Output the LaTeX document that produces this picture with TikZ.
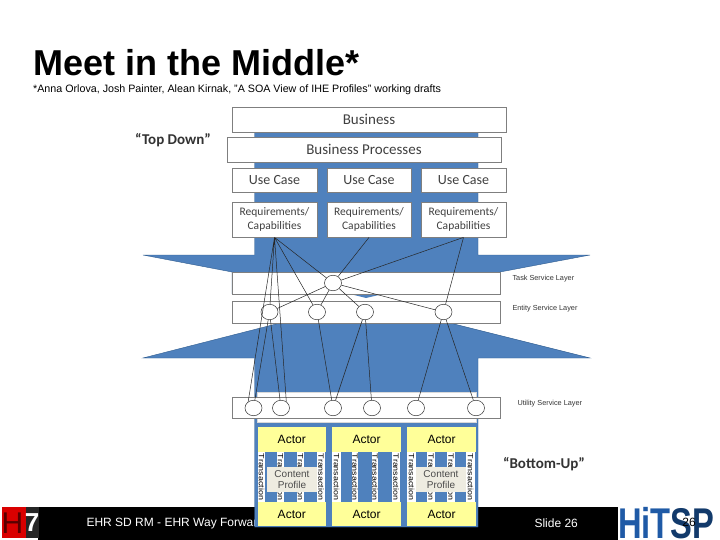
\documentclass[tikz,border=0pt]{standalone}
\usepackage{fontspec}
\usepackage{graphicx}
\setmainfont{Liberation Sans}
\newfontfamily\calfont{Carlito}
\definecolor{bl}{HTML}{4F81BD}
\definecolor{dbl}{HTML}{2F5C8F}
\definecolor{bd}{HTML}{7F7F7F}
\definecolor{yl}{HTML}{FFFF99}
\definecolor{beige}{HTML}{EEECE1}
\definecolor{hit}{HTML}{1F5AA6}
\definecolor{hitd}{HTML}{123A6B}
\definecolor{txtg}{HTML}{404040}
\usetikzlibrary{shapes.geometric}
\tikzset{
  wbox/.style={draw=bd,fill=white,line width=0.8pt,inner sep=0pt,font=\calfont\fontsize{15}{15}\selectfont,text=txtg},
  ucbox/.style={wbox,font=\calfont\fontsize{14}{14}\selectfont},
  reqbox/.style={wbox,font=\calfont\fontsize{11.5}{14.5}\selectfont,align=center},
  band/.style={draw=bd,fill=white,line width=0.7pt},
  svc/.style={draw=black!80,fill=white,ellipse,line width=0.5pt,minimum width=17pt,minimum height=15.5pt,inner sep=0pt},
  link/.style={black!85,line width=0.5pt},
  layerlab/.style={font=\fontsize{7.3}{8}\selectfont,anchor=west,text=black!80},
  actor/.style={fill=yl,draw=none,font=\fontsize{12}{12}\selectfont,text=black},
  trans/.style={draw=none,rotate=-90,font=\fontsize{7.6}{8}\selectfont,inner sep=0pt},
  content/.style={fill=beige,draw=none,font=\fontsize{10}{11.5}\selectfont,align=center,text=black!70,inner sep=0pt},
  quote/.style={font=\calfont\bfseries\fontsize{15}{16}\selectfont,text=black!80},
}
\newcommand{\boxat}[6]{\node[#1,minimum width=#5pt-#3pt,minimum height=#6pt-#4pt] (#2) at ({(#3+#5)/2},{(#4+#6)/2}) }
\begin{document}
\begin{tikzpicture}[x=1pt,y=-1pt]
\useasboundingbox (0,0) rectangle (720,540);
\fill[white] (0,0) rectangle (720,540);
% footer band
\fill[black] (38,507) rectangle (618,540);
\node[anchor=west,text=white,font=\fontsize{12}{14}\selectfont] (foot) at (83,523) {EHR SD RM - EHR Way Forward};
\node[anchor=west,text=white,font=\fontsize{12}{14}\selectfont] (slide) at (531,523) {Slide 26};
% blue arrow shape
\fill[bl,draw=dbl,line width=0.4pt] (254.5,132) -- (478,132) -- (478,255) -- (590,255) -- (500,272) -- (500,300) -- (450,323) -- (590,358) -- (478,358) -- (478,527) -- (254.5,527) -- (254.5,358) -- (143,358) -- (280,323) -- (232,300) -- (232,272) -- (143,255) -- (254.5,255) -- cycle;
% white gap between the bands
\fill[white] (225,294) rectangle (505,301);
\fill[bl] (350,294) -- (383,294) -- (366,298) -- cycle;
% layers
\draw[band] (232,272) rectangle (500,294);
\draw[band] (232,301) rectangle (500,323);
\fill[white,draw=black!15,line width=0.6pt] (257,392) rectangle (476,422);
\draw[band] (232,397) rectangle (500,418);
% top boxes
\boxat{wbox}{bus}{232}{107}{506}{132} {Business};
\boxat{wbox}{bp}{227}{137}{501}{162} {Business Processes};
\boxat{ucbox}{uc1}{232}{168}{317}{192} {Use Case};
\boxat{ucbox}{uc2}{327}{168}{411}{192} {Use Case};
\boxat{ucbox}{uc3}{421}{168}{506}{192} {Use Case};
\boxat{reqbox}{rq1}{232}{202}{317}{237} {Requirements/\\Capabilities};
\boxat{reqbox}{rq2}{327}{202}{411}{237} {Requirements/\\Capabilities};
\boxat{reqbox}{rq3}{421}{202}{506}{237} {Requirements/\\Capabilities};
% services
\node[svc] (t) at (333,283) {};
\node[svc] (e1) at (269.5,312) {};
\node[svc] (e2) at (317,312) {};
\node[svc] (e3) at (365,312) {};
\node[svc] (e4) at (443.5,312) {};
\node[svc] (u1) at (253.5,408) {};
\node[svc] (u2) at (281,408) {};
\node[svc] (u3) at (333,408) {};
\node[svc] (u4) at (372,408) {};
\node[svc] (u5) at (416,408) {};
\node[svc] (u6) at (476,408) {};
\coordinate (r1) at (rq1.south);
\coordinate (r2) at (rq2.south);
\coordinate (r3) at (rq3.south);
\draw[link] (r1) -- (t) (r1) -- (e2) (r1) -- (e1) (r1) -- (u1.130) (r1) -- (u2.50);
\draw[link] (r2) -- (t) (r3) -- (t) (r3) -- (e4);
\draw[link] (t) -- (e1) (t) -- (e2) (t) -- (e3) (t) -- (e4);
\draw[link] (e1) -- (u1) (e1) -- (u2) (e2) -- (u3) (e3) -- (u3) (e3) -- (u4) (e4) -- (u5) (e4) -- (u6);
% layer labels
\node[layerlab] (ltask) at (509,279) {Task Service Layer};
\node[layerlab] (lent) at (509,309) {Entity Service Layer};
\node[layerlab] (lutil) at (514,404) {Utility Service Layer};
% profile columns
\foreach \a/\b in {258/265,277/284,297/304,317/325,332/341,352/358,372/378,392/400,407/416,427/435,447/455,466/475}
  {\fill[white] (\a,452) rectangle (\b,502);
   \node[trans] at ({(\a+\b)/2},477) {\scalebox{1.17}[1]{Transaction}};}
\boxat{actor}{a1}{257.5}{427}{326}{452} {Actor};
\boxat{actor}{a2}{332}{427}{401}{452} {Actor};
\boxat{actor}{a3}{407}{427}{476}{452} {Actor};
\boxat{actor}{b1}{257.5}{502}{326}{526} {Actor};
\boxat{actor}{b2}{332}{502}{401}{526} {Actor};
\boxat{actor}{b3}{407}{502}{476}{526} {Actor};
\boxat{content}{c1}{267}{467}{317}{492} {Content\\Profile};
\boxat{content}{c3}{416}{467}{466}{492} {Content\\Profile};
% headings
\node[anchor=west,font=\bfseries\fontsize{36}{40}\selectfont,inner sep=0pt] (title) at (33,63) {Meet in the Middle*};
\node[anchor=west,font=\fontsize{10.7}{12}\selectfont,inner sep=0pt] (sub) at (33,90) {*Anna Orlova, Josh Painter, Alean Kirnak, "A SOA View of IHE Profiles" working drafts};
\node[quote] (td) at (173,140) {“Top Down”};
\node[quote] (bu) at (544,464) {“Bottom-Up”};
% logos
\fill[red!85!black] (2,507) rectangle (27,538);
\fill[black!85] (26,507) rectangle (39,538);
\node[font=\fontsize{30}{30}\selectfont,text=black!65!red,inner sep=0pt] (hl) at (12.5,523) {H};
\node[font=\bfseries\fontsize{26}{26}\selectfont,text=white,inner sep=0pt] (l7) at (32,523) {7};
\node[anchor=west,text=hit,inner sep=0pt] (hitsp) at (618,523) {\scalebox{0.76}[1]{\fontsize{43}{43}\selectfont\bfseries HiT\textcolor{hitd}{SP}}};
\node[font=\fontsize{12}{14}\selectfont,text=black] (pg) at (689,522) {26};
\end{tikzpicture}
\end{document}
